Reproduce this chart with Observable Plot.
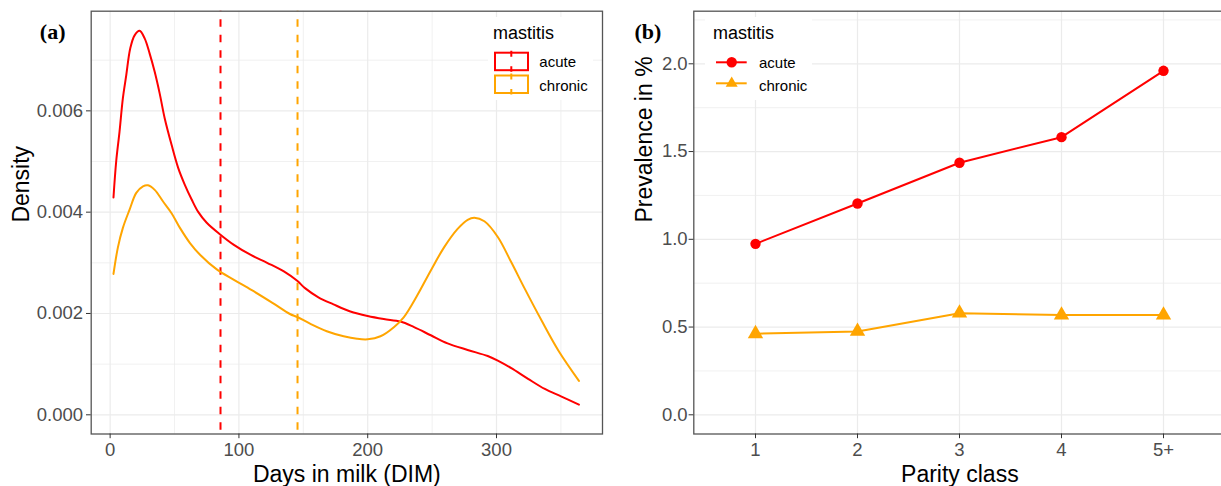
<!DOCTYPE html>
<html><head><meta charset="utf-8">
<script src="https://cdn.jsdelivr.net/npm/d3@7"></script>
<script src="https://cdn.jsdelivr.net/npm/@observablehq/plot@0.6"></script>
<style>
html,body{margin:0;padding:0;background:#fff;overflow:hidden;}
#wrap{position:relative;width:1221px;height:486px;overflow:hidden;background:#fff;}
#wrap svg{position:absolute;top:0;max-width:none !important;}
</style>
</head><body><div id="wrap"></div>
<script>
// ---------- data ----------
const groups = ["acute", "chronic"];
const colors = ["#FF0000", "#FFA500"];

const acuteDim = [2.6,4.7,7.3,9.9,12.5,15.6,19,22.9,26.8,30.7,34.6,38.5,42.4,47.7,52.9,58,63.3,68.5,75,85.4,95.8,108.9,121.9,134.9,145.5,151.3,161.7,173.4,186.5,200,212.5,225.5,236,249,262,277.6,293.2,301,311.5,324.5,337.5,350.5,364];
const acuteDensity = [0.00429,0.0050,0.00559,0.00625,0.00670,0.00723,0.00749,0.00758,0.00743,0.00713,0.00677,0.00634,0.00585,0.00533,0.00487,0.00454,0.00425,0.00400,0.00379,0.00356,0.00336,0.00316,0.0030,0.00283,0.00264,0.00250,0.00232,0.00218,0.00204,0.00195,0.00189,0.00184,0.00173,0.00157,0.00141,0.00128,0.00116,0.00107,0.00092,0.00071,0.00051,0.00036,0.0002];

const chronicDim = [2.6,6,9.9,15.1,20.3,25.5,29.4,34.6,41.1,47.7,54.2,62,69.8,82.8,95.8,110,126,139.6,145.3,155.2,168.2,181.3,191.7,200,209.9,220.3,228.1,238.5,249,259.4,269.8,277.6,282.8,290.6,301,311.5,321.9,335,348,364];
const chronicDensity = [0.00278,0.00330,0.00369,0.00405,0.00438,0.00451,0.00453,0.00444,0.00421,0.00398,0.00369,0.00339,0.00316,0.00287,0.00267,0.00246,0.00221,0.00199,0.00193,0.0018,0.00165,0.00155,0.0015,0.00149,0.00155,0.00173,0.00193,0.00236,0.00285,0.00331,0.00367,0.00385,0.00389,0.00382,0.00351,0.00301,0.00249,0.00186,0.00127,0.00067];

const meanDim = [85.7, 145.5];

const parityClasses = ["1", "2", "3", "4", "5+"];
const acutePrevalence = [0.974, 1.204, 1.436, 1.582, 1.96];
const chronicPrevalence = [0.462, 0.475, 0.579, 0.568, 0.568];

const dimTicks = [0, 100, 200, 300];
const dimMinor = [50, 150, 250, 350];
const densityTicks = [0, 0.002, 0.004, 0.006];
const densityMinor = [0.001, 0.003, 0.005, 0.007];
const prevalenceTicks = [0, 0.5, 1, 1.5, 2];
const prevalenceMinor = [0.25, 0.75, 1.25, 1.75, 2.25];

// ---------- derived tables ----------
const density = [
  ...acuteDim.map((d, i) => ({group: groups[0], dim: d, density: acuteDensity[i]})),
  ...chronicDim.map((d, i) => ({group: groups[1], dim: d, density: chronicDensity[i]}))
];
const means = groups.map((g, i) => ({group: g, dim: meanDim[i]}));
const prevalence = [
  ...parityClasses.map((p, i) => ({group: groups[0], parity: p, value: acutePrevalence[i]})),
  ...parityClasses.map((p, i) => ({group: groups[1], parity: p, value: chronicPrevalence[i]}))
];

const FONT = "'Liberation Sans', Arial, sans-serif";
const SERIF = "'Liberation Serif', 'Times New Roman', serif";
const GRID = "#ebebeb";
const FRAME = "#555555";
const TICKTEXT = "#4d4d4d";
const colorScale = {domain: groups, range: colors};

function legendText(g, x, y, size, str) {
  g.append("text").attr("x", x).attr("y", y)
    .attr("text-anchor", "start")
    .style("text-anchor", "start")
    .style("font-size", size + "px")
    .style("font-family", FONT)
    .attr("fill", "black").text(str);
}

// ---------- panel (a) ----------
const plotA = Plot.plot({
  width: 610, height: 486,
  marginLeft: 90.7, marginRight: 8, marginTop: 10.7, marginBottom: 52.5,
  style: {fontFamily: FONT, background: "transparent", overflow: "visible"},
  x: {domain: [-14.7, 382.3]},
  y: {domain: [-0.000379, 0.007967]},
  color: colorScale,
  marks: [
    Plot.gridX(dimMinor, {stroke: GRID, strokeOpacity: 1, strokeWidth: 0.7}),
    Plot.gridY(densityMinor, {stroke: GRID, strokeOpacity: 1, strokeWidth: 0.7}),
    Plot.gridX(dimTicks, {stroke: GRID, strokeOpacity: 1, strokeWidth: 1.2}),
    Plot.gridY(densityTicks, {stroke: GRID, strokeOpacity: 1, strokeWidth: 1.2}),
    Plot.ruleX(means, {x: "dim", stroke: "group", strokeWidth: 2, strokeDasharray: "7.5,8", strokeDashoffset: 6.9}),
    Plot.line(density, {x: "dim", y: "density", z: "group", stroke: "group", strokeWidth: 2, curve: "catmull-rom"}),
    Plot.frame({stroke: FRAME, strokeWidth: 1.3}),
    Plot.axisX(dimTicks, {tickSize: 4.7, tickPadding: 4.5, fontSize: 18.5, fill: TICKTEXT, stroke: "#333", label: null, tickFormat: d3.format("d")}),
    Plot.axisY(densityTicks, {tickSize: 4.7, tickPadding: 3.5, fontSize: 18.5, fill: TICKTEXT, stroke: "#333", label: null, tickFormat: d3.format(".3f")}),
    Plot.text(["Days in milk (DIM)"], {frameAnchor: "bottom", dy: 40.5, fontSize: 23, fill: "black", lineAnchor: "middle"}),
    Plot.text(["Density"], {frameAnchor: "left", dx: -70, rotate: -90, fontSize: 23, fill: "black", lineAnchor: "middle"}),
    Plot.text(["(a)"], {frameAnchor: "top-left", dx: -51.4, dy: 21, textAnchor: "start", lineAnchor: "middle", fontSize: 22, fontWeight: "bold", fontFamily: SERIF, fill: "black"})
  ]
});
plotA.style.left = "0px";
document.getElementById("wrap").appendChild(plotA);

// legend (a)
{
  const g = d3.select(plotA).append("g");
  g.append("rect").attr("x", 488).attr("y", 17).attr("width", 105).attr("height", 83).attr("fill", "white");
  legendText(g, 493, 39.3, 18, "mastitis");
  const keyY = [51.7, 74.5];
  const textY = [67.3, 91];
  groups.forEach((grp, i) => {
    g.append("rect").attr("x", 495).attr("y", keyY[i] + 1).attr("width", 33).attr("height", 17.5)
      .attr("fill", "none").attr("stroke", colors[i]).attr("stroke-width", 2);
    g.append("line").attr("x1", 511.3).attr("x2", 511.3).attr("y1", keyY[i] - 1).attr("y2", keyY[i] + 20)
      .attr("stroke", colors[i]).attr("stroke-width", 2).attr("stroke-dasharray", "6,9.5");
    legendText(g, 539.3, textY[i], 15, grp);
  });
}

// ---------- panel (b) ----------
const plotB = Plot.plot({
  width: 616, height: 486,
  marginLeft: 83.3, marginRight: 0.6, marginTop: 10.7, marginBottom: 52.5,
  style: {fontFamily: FONT, background: "transparent", overflow: "visible"},
  x: {type: "point", domain: parityClasses, padding: 0.6},
  y: {domain: [-0.1094, 2.2997]},
  color: colorScale,
  symbol: {domain: groups, range: ["circle", "triangle"]},
  marks: [
    Plot.gridY(prevalenceMinor, {stroke: GRID, strokeOpacity: 1, strokeWidth: 0.7}),
    Plot.gridX(parityClasses, {stroke: GRID, strokeOpacity: 1, strokeWidth: 1.2}),
    Plot.gridY(prevalenceTicks, {stroke: GRID, strokeOpacity: 1, strokeWidth: 1.2}),
    Plot.line(prevalence, {x: "parity", y: "value", z: "group", stroke: "group", strokeWidth: 2}),
    Plot.dot(prevalence.filter(d => d.group === groups[0]), {x: "parity", y: "value", fill: "group", symbol: "group", r: 5.2, stroke: "none"}),
    Plot.dot(prevalence.filter(d => d.group === groups[1]), {x: "parity", y: "value", fill: "group", symbol: "group", r: 5.7, stroke: "none"}),
    Plot.frame({stroke: FRAME, strokeWidth: 1.3}),
    Plot.axisX(parityClasses, {tickSize: 4.7, tickPadding: 4.5, fontSize: 18.5, fill: TICKTEXT, stroke: "#333", label: null}),
    Plot.axisY(prevalenceTicks, {tickSize: 4.7, tickPadding: 1.5, fontSize: 18.5, fill: TICKTEXT, stroke: "#333", label: null, tickFormat: d3.format(".1f")}),
    Plot.text(["Parity class"], {frameAnchor: "bottom", dy: 40.5, fontSize: 23, fill: "black", lineAnchor: "middle"}),
    Plot.text(["Prevalence in %"], {frameAnchor: "left", dx: -49, rotate: -90, fontSize: 23, fill: "black", lineAnchor: "middle"}),
    Plot.text(["(b)"], {frameAnchor: "top-left", dx: -59.3, dy: 21, textAnchor: "start", lineAnchor: "middle", fontSize: 22, fontWeight: "bold", fontFamily: SERIF, fill: "black"})
  ]
});
plotB.style.left = "610px";
document.getElementById("wrap").appendChild(plotB);

// legend (b)
{
  const off = 610;
  const g = d3.select(plotB).append("g");
  g.append("rect").attr("x", 705 - off).attr("y", 17).attr("width", 107).attr("height", 83).attr("fill", "white");
  legendText(g, 713 - off, 39, 18, "mastitis");
  const keyY = [62.3, 83.3];
  const textY = [68.3, 90.7];
  const syms = [d3.symbolCircle, d3.symbolTriangle2];
  const sizes = [Math.PI * 5.2 * 5.2, Math.PI * 5.7 * 5.7];
  groups.forEach((grp, i) => {
    g.append("line").attr("x1", 716 - off).attr("x2", 746.7 - off).attr("y1", keyY[i]).attr("y2", keyY[i])
      .attr("stroke", colors[i]).attr("stroke-width", 2);
    g.append("path").attr("d", d3.symbol(syms[i], sizes[i])())
      .attr("transform", `translate(${731.7 - off},${keyY[i]})`).attr("fill", colors[i]);
    legendText(g, 759 - off, textY[i], 15, grp);
  });
}
</script>
</body></html>
